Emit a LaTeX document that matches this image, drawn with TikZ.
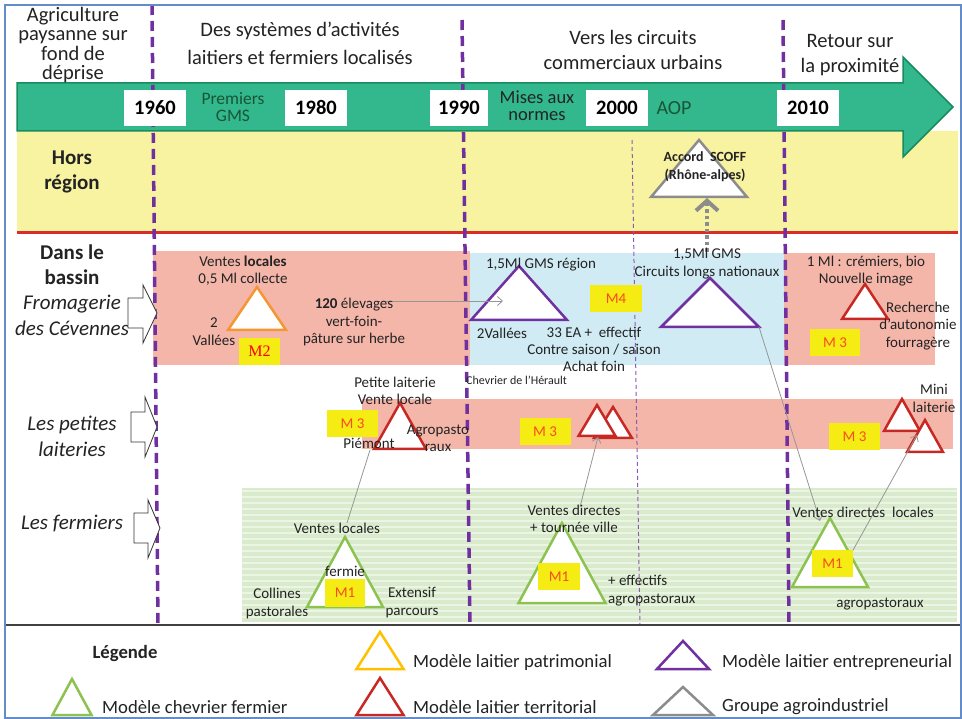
\documentclass[tikz,border=0pt]{standalone}
\usepackage{fontspec}
\setmainfont{Carlito}
\newfontfamily\mtwofont{Liberation Serif}
\usetikzlibrary{arrows.meta}
\definecolor{txt}{RGB}{35,35,35}
\definecolor{bandyellow}{RGB}{248,243,160}
\definecolor{bandpink}{RGB}{245,182,170}
\definecolor{bandblue}{RGB}{208,235,244}
\definecolor{bandgreen}{RGB}{218,235,205}
\definecolor{stripegreen}{RGB}{235,245,227}
\definecolor{arrowteal}{RGB}{50,184,140}
\definecolor{arrowedge}{RGB}{25,140,95}
\definecolor{purp}{RGB}{112,48,160}
\definecolor{redline}{RGB}{215,45,45}
\definecolor{triorange}{RGB}{245,150,50}
\definecolor{trired}{RGB}{200,40,35}
\definecolor{trigreen}{RGB}{140,195,80}
\definecolor{trigray}{RGB}{140,140,140}
\definecolor{triyellow}{RGB}{255,192,0}
\definecolor{mboxy}{RGB}{245,236,20}
\definecolor{mtext}{RGB}{250,75,30}
\definecolor{conncol}{RGB}{150,150,150}
\definecolor{frameblue}{RGB}{100,140,200}
\definecolor{darkgreen}{RGB}{25,85,55}
\newcommand\drawtri[6]{\draw[tri,draw=#2] (#3,#4) coordinate (#1) -- ++(#5,#6) -- ++({-2*#5},0) -- cycle;}
\tikzset{
  tri/.style={fill=white,line width=2.5pt,line join=miter},
  lbl/.style={font=\fontsize{15}{17}\selectfont,align=center,text=txt,inner sep=0pt},
  head/.style={font=\fontsize{20.5}{28}\selectfont,align=center,text=txt,inner sep=0pt},
  rowl/.style={font=\fontsize{21}{25}\selectfont,align=center,text=txt,inner sep=0pt},
  legl/.style={font=\fontsize{18.7}{22}\selectfont,text=txt,inner sep=0pt,anchor=west},
  yearbox/.style={fill=white,minimum width=62pt,minimum height=36pt,inner sep=0pt,font=\fontsize{20.5}{24}\selectfont\bfseries,text=black},
  mbox/.style={fill=mboxy,text=mtext,minimum height=27pt,inner sep=0pt,font=\fontsize{15}{17}\selectfont},
  perdash/.style={purp,line width=3.5pt,dash pattern=on 10pt off 6pt},
  thindash/.style={purp!80,line width=1pt,dash pattern=on 4pt off 3pt},
  conn/.style={conncol,line width=0.8pt},
  connarrow/.style={conn,-{Straight Barb[length=5pt,width=9pt]}},
  blockarrow/.style={draw=black!80,fill=white,line width=0.8pt,line join=miter},
}
\begin{document}
\begin{tikzpicture}[x=1pt,y=-1pt]
\useasboundingbox (0,0) rectangle (962,719);
\fill[white] (0,0) rectangle (962,719);

% bands
\fill[bandyellow] (17,131) rectangle (958,233);
\draw[redline,line width=3pt] (17,233) -- (958,233);
\fill[bandpink] (153,251) rectangle (470,365);
\fill[bandblue] (470,253) rectangle (784,365);
\fill[bandpink] (784,253) rectangle (935,365);
\fill[bandpink] (362,399) rectangle (953,449);
\fill[bandgreen] (242,488) rectangle (957,622);
\foreach \yy in {491,497,...,619} \draw[stripegreen,line width=2pt] (242,\yy) -- (957,\yy);

% timeline arrow
\draw[fill=arrowteal,draw=arrowedge,line width=1.5pt] (17,83) -- (903,83) -- (903,57) -- (953,107) -- (903,157) -- (903,131) -- (17,131) -- cycle;

% period separators
\draw[perdash] (152,5) -- (158,625);
\draw[perdash] (462,20) -- (470,625);
\draw[perdash] (783,20) -- (789,625);
\draw[thindash] (632,140) -- (640,625);

% year boxes
\node[yearbox] (y1960) at (155,108) {1960};
\node[yearbox] (y1980) at (316,108) {1980};
\node[yearbox,minimum width=58pt] (y1990) at (459,108) {1990};
\node[yearbox] (y2000) at (617,108) {2000};
\node[yearbox] (y2010) at (808,108) {2010};
\node[font=\fontsize{17.5}{17}\selectfont,align=center,text=darkgreen,inner sep=0pt] (gms) at (233,107) {Premiers\\GMS};
\node[font=\fontsize{18.5}{17}\selectfont,align=center,text=txt,inner sep=0pt] (norm) at (537,106) {Mises aux\\normes};
\node[font=\fontsize{20}{24}\selectfont,text=darkgreen,inner sep=0pt] (aop) at (674,108) {AOP};

% period headings
\node[head,font=\fontsize{20.5}{19.6}\selectfont] (h0) at (73,45) {Agriculture\\paysanne sur\\fond de\\déprise};
\node[head,font=\fontsize{20.5}{28}\selectfont] (h1) at (300,43) {Des systèmes d’activités\\laitiers et fermiers localisés};
\node[head,font=\fontsize{20.5}{25}\selectfont] (h2) at (633,50) {Vers les circuits\\commerciaux urbains};
\node[head,font=\fontsize{20.5}{25}\selectfont] (h3) at (850,55) {Retour sur\\la proximité};

% row labels
\node[rowl,font=\fontsize{21}{25}\selectfont\bfseries] (hors) at (72,172) {Hors\\région};
\node[rowl,font=\fontsize{21}{25}\selectfont\bfseries] (dans) at (72,265) {Dans le\\bassin};
\node[rowl,font=\fontsize{21}{26}\selectfont\itshape] (froma) at (72,315) {Fromagerie\\des Cévennes};
\node[rowl,font=\fontsize{21}{26}\selectfont\itshape] (petites) at (72,436) {Les petites\\laiteries};
\node[rowl,font=\fontsize{21}{26}\selectfont\itshape] (fermiers) at (72,524) {Les fermiers};
\draw[blockarrow] (128,298) -- (143,298) -- (143,285) -- (157,313) -- (143,343) -- (143,328) -- (128,328) -- cycle;
\draw[blockarrow] (131,412) -- (145,412) -- (145,397) -- (157,427) -- (145,457) -- (145,442) -- (131,442) -- cycle;
\draw[blockarrow] (134,513) -- (148,513) -- (148,500) -- (160,528) -- (148,558) -- (148,543) -- (134,543) -- cycle;

% triangles
\drawtri{tO}{triorange}{257}{287}{29}{43}
\drawtri{tP1}{purp}{519}{266}{48}{54}
\drawtri{tP2}{purp}{710}{278}{49}{49}
\drawtri{tG}{trigray}{699}{140}{48}{57}
\drawtri{tR1}{trired}{865}{284}{23}{35}
\drawtri{tR2}{trired}{400}{403}{26}{46}
\drawtri{tR3b}{trired}{613}{407}{19}{31}
\drawtri{tR3a}{trired}{597}{405}{18.5}{31}
\drawtri{tR4a}{trired}{902}{399}{18}{32}
\drawtri{tR4b}{trired}{925}{420}{18}{32}
\drawtri{tF1}{trigreen}{345}{537}{38}{70}
\drawtri{tF2}{trigreen}{562}{523}{43.5}{80}
\drawtri{tF3}{trigreen}{830}{518}{38}{69}

% connectors
\coordinate (c1a) at (383,301); \coordinate (c1b) at (503,301);
\draw[connarrow] (c1a) -- (c1b);
\coordinate (c2a) at (759,327); \coordinate (c2b) at (820,521);
\draw[connarrow] (c2a) -- (c2b);
\coordinate (c3a) at (347,523); \coordinate (c3b) at (370,450);
\draw[conn] (c3a) -- (c3b);
\coordinate (c4a) at (580,507); \coordinate (c4b) at (598,437);
\draw[connarrow] (c4a) -- (c4b);
\coordinate (c5a) at (852,552); \coordinate (c5b) at (917,435);
\draw[connarrow] (c5a) -- (c5b);
\coordinate (c6a) at (707,252); \coordinate (c6b) at (707,198);
\draw[trigray,line width=4pt,dash pattern=on 3.5pt off 3pt,-{Straight Barb[length=10pt,width=22pt]}] (c6a) -- (c6b);

% row 1 texts
\node[lbl] (t1) at (243,270.5) {Ventes \textbf{locales}\\0,5 Ml collecte};
\node[lbl,font=\fontsize{15}{18}\selectfont] (t2) at (214,332) {2\\Vallées};
\node[mbox,minimum width=41pt,font=\fontsize{16}{18}\mtwofont,text=red] (m2) at (259.5,351.5) {M2};
\node[lbl,font=\fontsize{15}{17.5}\selectfont] (t3) at (354,322.5) {\textbf{120} élevages\\vert-foin-\\pâture sur herbe};
\node[lbl] (t4) at (541,265) {1,5Ml GMS région};
\node[lbl] (t5) at (502,333) {2Vallées};
\node[lbl] (t6) at (594,349) {33 EA +\ \ effectif\\Contre saison / saison\\Achat foin};
\node[font=\fontsize{12}{14}\selectfont,text=txt,anchor=west,inner sep=0pt] (t7) at (466,380) {Chevrier de l’Hérault};
\node[mbox,minimum width=52pt] (m4) at (616,298.5) {M4};
\node[lbl,font=\fontsize{15}{18}\selectfont] (t8) at (707,264) {1,5Ml GMS\\Circuits longs nationaux};
\node[lbl,font=\fontsize{14}{18}\selectfont\bfseries] (t9) at (705,167) {Accord\ \ SCOFF\\(Rhône-alpes)};
\node[lbl] (t10) at (866,271) {1 Ml : crémiers, bio\\Nouvelle image};
\node[lbl,font=\fontsize{15}{17.5}\selectfont] (t11) at (918,326) {Recherche\\d’autonomie\\fourragère};
\node[mbox,minimum width=50pt] (m3a) at (835,342.5) {M 3};

% row 2 texts
\node[lbl] (t12) at (395,390.5) {Petite laiterie\\Vente locale};
\node[lbl] (t13) at (438,438.5) {Agropasto\\raux};
\node[lbl] (t14) at (369,443) {Piémont};
\node[mbox,minimum width=51pt] (m3b) at (352.5,423.5) {M 3};
\node[mbox,minimum width=51pt] (m3c) at (545,431.5) {M 3};
\node[lbl,font=\fontsize{15}{18}\selectfont] (t15) at (934,398) {Mini\\laiterie};
\node[mbox,minimum width=51pt] (m3d) at (854.5,436.5) {M 3};

% row 3 texts
\node[lbl] (t16) at (337,528) {Ventes locales};
\node[lbl] (t17) at (345,571) {fermie};
\node[mbox,minimum width=40pt,minimum height=28pt] (m1a) at (345,593) {M1};
\node[lbl,font=\fontsize{15}{18}\selectfont] (t18) at (277,603) {Collines\\pastorales};
\node[lbl,font=\fontsize{15}{18}\selectfont] (t19) at (412,603) {Extensif\\parcours};
\node[lbl] (t20) at (574,519) {Ventes directes\\+ tournée ville};
\node[mbox,minimum width=42pt] (m1b) at (559,576.5) {M1};
\node[lbl,font=\fontsize{15}{18}\selectfont,align=left,anchor=west] (t21) at (608,591) {+ effectifs\\agropastoraux};
\node[lbl] (t22) at (863,512) {Ventes directes\ \ locales};
\node[mbox,minimum width=41pt] (m1c) at (832.5,563.5) {M1};
\node[lbl] (t23) at (880,604) {agropastoraux};

% legend
\draw[black!75,line width=2pt] (5,625) -- (961,625);
\node[font=\fontsize{18.7}{22}\selectfont\bfseries,text=txt,inner sep=0pt] (leg) at (125,654) {Légende};
\drawtri{lY}{triyellow}{380}{632}{23.5}{37}
\drawtri{lR}{trired}{380}{678}{23.5}{37}
\drawtri{lF}{trigreen}{72}{679}{19.5}{36}
\drawtri{lP}{purp}{683}{641}{26}{28}
\drawtri{lG}{trigray}{683}{687}{30}{28}
\node[legl] (l1) at (413,663) {Modèle laitier patrimonial};
\node[legl] (l2) at (413,707) {Modèle laitier territorial};
\node[legl] (l3) at (102,707) {Modèle chevrier fermier};
\node[legl] (l4) at (722,663) {Modèle laitier entrepreneurial};
\node[legl] (l5) at (722,707) {Groupe agroindustriel};

% frame
\draw[frameblue,line width=1.2pt] (5,5) rectangle (961,718);
\end{tikzpicture}
\end{document}
